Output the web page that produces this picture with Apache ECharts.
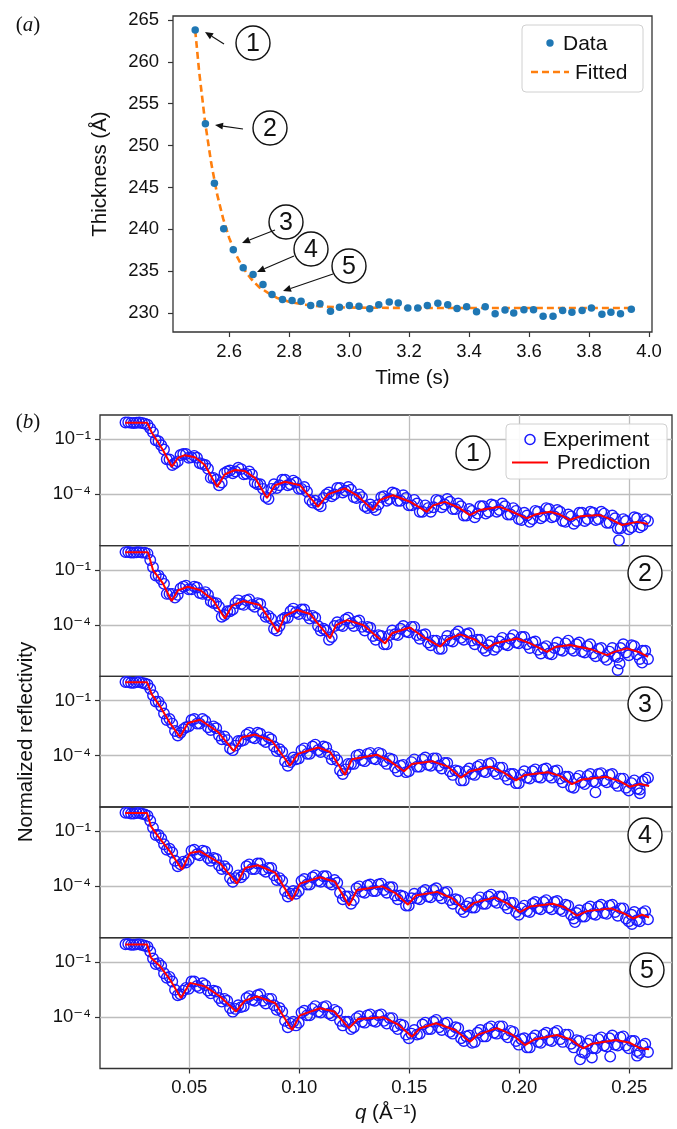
<!DOCTYPE html>
<html><head><meta charset="utf-8">
<script src="https://cdn.jsdelivr.net/npm/echarts@6/dist/echarts.min.js"></script>
<style>html,body{margin:0;padding:0;background:#fff}#c{width:677px;height:1129px}</style>
</head><body><div id="c"></div>
<script>
// ---------- Panel (a) data ----------
const timeS = [2.487,2.521,2.551,2.582,2.614,2.647,2.680,2.713,2.743,2.778,2.810,2.840,2.872,2.903,2.938,2.968,3.001,3.033,3.069,3.099,3.134,3.164,3.196,3.229,3.261,3.296,3.329,3.360,3.392,3.425,3.454,3.487,3.520,3.549,3.583,3.615,3.647,3.680,3.712,3.743,3.777,3.808,3.843,3.873,3.905,3.941];
const thickness = [263.8,252.6,245.5,240.05,237.56,235.4,234.6,233.4,232.2,231.6,231.5,231.4,230.9,231.1,230.2,230.7,230.9,230.8,230.5,231.0,231.3,231.2,230.6,230.6,230.9,231.15,231.0,230.55,230.75,230.15,230.75,229.9,230.35,230.0,230.4,230.4,229.6,229.6,230.3,230.1,230.3,230.6,229.85,230.1,229.9,230.45];
const fitTime = [2.487,2.50,2.52,2.54,2.56,2.58,2.60,2.62,2.64,2.66,2.68,2.70,2.73,2.76,2.80,2.85,2.90,2.95,3.0,3.2,3.4,3.6,3.8,3.94];
const fitThickness = [263.8,258.9,252.8,248.0,244.2,241.3,239.0,237.2,235.8,234.7,233.8,233.1,232.4,231.8,231.35,231.0,230.8,230.7,230.65,230.6,230.6,230.6,230.6,230.6];
const timeTicks = [2.6,2.8,3.0,3.2,3.4,3.6,3.8,4.0];
const thickTicks = [230,235,240,245,250,255,260,265];

// ---------- Panel (b) data (log10 of normalized reflectivity) ----------
const qGrid = [0.0210,0.0235,0.0260,0.0285,0.0310,0.0335,0.0360,0.0385,0.0410,0.0435,
0.0460,0.0485,0.0510,0.0535,0.0560,0.0585,0.0610,0.0635,0.0660,0.0685,
0.0710,0.0735,0.0760,0.0785,0.0810,0.0835,0.0860,0.0885,0.0910,0.0935,
0.0960,0.0985,0.1010,0.1035,0.1060,0.1085,0.1110,0.1135,0.1160,0.1185,
0.1210,0.1235,0.1260,0.1285,0.1310,0.1335,0.1360,0.1385,0.1410,0.1435,
0.1460,0.1485,0.1510,0.1535,0.1560,0.1585,0.1610,0.1635,0.1660,0.1685,
0.1710,0.1735,0.1760,0.1785,0.1810,0.1835,0.1860,0.1885,0.1910,0.1935,
0.1960,0.1985,0.2010,0.2035,0.2060,0.2085,0.2110,0.2135,0.2160,0.2185,
0.2210,0.2235,0.2260,0.2285,0.2310,0.2335,0.2360,0.2385,0.2410,0.2435,
0.2460,0.2485,0.2510,0.2535,0.2560,0.2585];
const qMid = [0.02225,0.02475,0.02725,0.02975,0.03225,0.03475,0.03725,0.03975,0.04225,0.04475,
0.04725,0.04975,0.05225,0.05475,0.05725,0.05975,0.06225,0.06475,0.06725,0.06975,
0.07225,0.07475,0.07725,0.07975,0.08225,0.08475,0.08725,0.08975,0.09225,0.09475,
0.09725,0.09975,0.10225,0.10475,0.10725,0.10975,0.11225,0.11475,0.11725,0.11975,
0.12225,0.12475,0.12725,0.12975,0.13225,0.13475,0.13725,0.13975,0.14225,0.14475,
0.14725,0.14975,0.15225,0.15475,0.15725,0.15975,0.16225,0.16475,0.16725,0.16975,
0.17225,0.17475,0.17725,0.17975,0.18225,0.18475,0.18725,0.18975,0.19225,0.19475,
0.19725,0.19975,0.20225,0.20475,0.20725,0.20975,0.21225,0.21475,0.21725,0.21975,
0.22225,0.22475,0.22725,0.22975,0.23225,0.23475,0.23725,0.23975,0.24225,0.24475,
0.24725,0.24975,0.25225,0.25475,0.25725];

const exp1Log = [-0.08,-0.10,-0.09,-0.11,-0.20,-0.62,-1.10,-1.55,-2.10,-2.30,
-1.85,-1.80,-1.98,-2.00,-2.35,-2.60,-3.10,-3.50,-2.85,-2.70,
-2.75,-2.62,-2.88,-2.92,-3.45,-3.70,-4.25,-3.45,-3.50,-3.20,
-3.45,-3.35,-3.70,-3.85,-4.45,-4.55,-4.20,-3.90,-4.00,-3.65,
-3.80,-3.75,-4.20,-4.15,-4.75,-4.70,-4.55,-4.10,-4.25,-3.95,
-4.35,-4.20,-4.60,-4.50,-4.95,-4.75,-4.70,-4.35,-4.55,-4.40,
-4.80,-4.65,-5.15,-4.90,-5.05,-4.65,-4.95,-4.60,-4.85,-4.65,
-5.10,-4.90,-5.40,-5.15,-5.35,-4.95,-5.20,-4.80,-5.20,-4.95,
-5.50,-5.20,-5.45,-5.00,-5.35,-5.00,-5.35,-5.05,-5.55,-5.30,
-5.85,-5.45,-5.80,-5.30,-5.70,-5.45];
const exp1MidLog = [-0.07,-0.11,-0.08,-0.14,-0.40,-1.05,-1.32,-2.08,-2.40,-2.20,
-1.80,-2.00,-1.90,-2.30,-2.40,-3.10,-3.20,-3.35,-2.75,-2.85,
-2.55,-2.90,-2.75,-3.35,-3.45,-4.15,-3.70,-3.65,-3.20,-3.50,
-3.25,-3.70,-3.60,-4.30,-4.35,-4.65,-4.00,-4.10,-3.65,-3.90,
-3.60,-4.15,-4.00,-4.65,-4.55,-4.85,-4.15,-4.35,-3.90,-4.35,
-4.05,-4.60,-4.30,-4.95,-4.60,-4.95,-4.30,-4.70,-4.25,-4.80,
-4.50,-5.15,-4.80,-5.25,-4.65,-5.05,-4.55,-4.95,-4.50,-5.10,
-4.75,-5.35,-5.00,-5.50,-4.90,-5.30,-4.75,-5.25,-4.85,-5.45,
-5.10,-5.60,-5.00,-5.45,-4.95,-5.40,-4.95,-5.55,-5.15,-5.85,
-5.35,-5.90,-5.25,-5.80,-5.35];
const exp2Log = [-0.02,-0.04,-0.03,-0.05,-0.10,-0.85,-1.30,-1.75,-2.30,-2.50,
-2.00,-1.85,-2.05,-1.95,-2.30,-2.35,-2.80,-3.00,-3.45,-3.25,
-2.80,-2.85,-2.65,-2.90,-2.80,-3.30,-3.50,-4.20,-4.05,-3.60,
-3.25,-3.30,-3.15,-3.45,-3.50,-4.05,-4.20,-4.80,-4.05,-4.00,
-3.70,-3.90,-3.80,-4.10,-4.10,-4.60,-4.55,-5.05,-4.55,-4.50,
-4.20,-4.35,-4.10,-4.55,-4.55,-4.95,-4.85,-5.30,-4.85,-4.85,
-4.50,-4.70,-4.50,-4.85,-4.80,-5.25,-5.10,-5.35,-4.90,-5.05,
-4.75,-4.95,-4.65,-5.05,-4.95,-5.35,-5.25,-5.55,-5.25,-5.35,
-5.00,-5.30,-5.05,-5.45,-5.15,-5.55,-5.30,-5.75,-5.45,-5.70,
-5.25,-5.50,-5.10,-5.60,-5.40,-5.85];
const exp2MidLog = [-0.01,-0.05,-0.02,-0.05,-0.45,-1.30,-1.50,-2.30,-2.30,-2.35,
-1.90,-2.05,-1.90,-2.25,-2.20,-2.70,-2.80,-3.55,-3.25,-3.15,
-2.65,-2.90,-2.60,-3.00,-2.85,-3.55,-3.65,-4.30,-3.70,-3.60,
-3.10,-3.40,-3.15,-3.65,-3.60,-4.30,-4.30,-4.65,-3.85,-4.05,
-3.60,-4.05,-3.75,-4.30,-4.15,-4.80,-4.60,-5.05,-4.30,-4.55,
-4.05,-4.40,-4.10,-4.75,-4.50,-5.10,-4.85,-5.30,-4.60,-4.90,
-4.35,-4.80,-4.45,-5.05,-4.80,-5.40,-4.90,-5.20,-4.70,-5.10,
-4.55,-5.00,-4.65,-5.25,-4.90,-5.55,-5.15,-5.60,-4.95,-5.40,
-4.85,-5.40,-4.95,-5.50,-5.05,-5.70,-5.25,-5.90,-5.25,-5.75,
-5.05,-5.65,-5.15,-5.85,-5.40];
const exp3Log = [0.02,-0.02,0.01,-0.03,-0.12,-0.70,-1.05,-1.70,-2.00,-2.65,
-2.75,-2.45,-2.05,-2.25,-2.00,-2.45,-2.40,-2.90,-2.95,-3.60,
-3.45,-3.20,-2.85,-3.00,-2.75,-3.15,-3.00,-3.50,-3.65,-4.30,
-4.35,-4.20,-3.70,-3.90,-3.50,-3.70,-3.50,-3.90,-4.05,-4.80,
-4.75,-4.45,-4.00,-4.25,-3.90,-4.15,-3.85,-4.30,-4.15,-4.65,
-4.55,-4.90,-4.35,-4.60,-4.20,-4.50,-4.15,-4.55,-4.40,-4.85,
-4.80,-5.35,-4.85,-5.00,-4.60,-4.85,-4.45,-4.85,-4.65,-5.10,
-5.00,-5.50,-5.05,-5.20,-4.85,-5.15,-4.75,-5.10,-4.85,-5.25,
-5.15,-5.70,-5.25,-5.45,-5.10,-5.40,-5.00,-5.35,-5.05,-5.50,
-5.25,-5.75,-5.50,-5.80,-5.40,-5.20];
const exp3MidLog = [0.01,-0.03,0.02,-0.06,-0.35,-1.05,-1.30,-2.05,-2.25,-2.90,
-2.55,-2.40,-2.00,-2.25,-2.10,-2.60,-2.50,-3.10,-3.15,-3.70,
-3.20,-3.15,-2.75,-3.05,-2.80,-3.25,-3.10,-3.75,-3.80,-4.55,
-4.10,-4.15,-3.60,-3.90,-3.40,-3.80,-3.55,-4.20,-4.25,-5.00,
-4.45,-4.45,-3.95,-4.30,-3.85,-4.20,-3.90,-4.45,-4.20,-4.85,
-4.50,-4.85,-4.20,-4.60,-4.10,-4.55,-4.15,-4.70,-4.40,-5.05,
-4.85,-5.35,-4.70,-5.05,-4.50,-4.90,-4.40,-5.00,-4.65,-5.30,
-5.00,-5.50,-4.85,-5.25,-4.75,-5.20,-4.70,-5.20,-4.80,-5.45,
-5.15,-5.75,-5.10,-5.55,-5.00,-5.45,-4.95,-5.45,-5.00,-5.65,
-5.25,-5.90,-5.35,-5.85,-5.30];
const exp4Log = [0.02,-0.03,0.00,-0.04,-0.15,-0.80,-1.20,-1.70,-1.95,-2.60,
-2.80,-2.70,-2.05,-2.25,-2.05,-2.45,-2.45,-2.85,-2.90,-3.55,
-3.55,-3.50,-2.90,-3.05,-2.75,-3.10,-3.00,-3.40,-3.55,-4.25,
-4.40,-4.40,-3.70,-3.90,-3.50,-3.70,-3.45,-3.80,-3.65,-4.35,
-4.55,-4.95,-4.10,-4.30,-3.95,-4.25,-3.90,-4.20,-4.05,-4.50,
-4.50,-5.05,-4.65,-4.65,-4.30,-4.55,-4.20,-4.50,-4.35,-4.75,
-4.70,-5.25,-5.10,-5.15,-4.75,-4.95,-4.55,-4.80,-4.55,-5.00,
-4.90,-5.40,-5.20,-5.35,-4.95,-5.20,-4.85,-5.15,-4.85,-5.25,
-5.00,-5.55,-5.45,-5.65,-5.20,-5.50,-5.10,-5.45,-5.05,-5.40,
-5.20,-5.75,-5.55,-5.85,-5.45,-5.80];
const exp4MidLog = [0.01,-0.03,0.01,-0.07,-0.42,-1.20,-1.38,-2.00,-2.15,-2.90,
-2.65,-2.55,-2.00,-2.30,-2.10,-2.60,-2.50,-3.05,-3.05,-3.75,
-3.40,-3.35,-2.80,-3.05,-2.75,-3.20,-3.00,-3.65,-3.70,-4.55,
-4.25,-4.25,-3.60,-3.90,-3.40,-3.75,-3.45,-3.90,-3.80,-4.70,
-4.55,-4.75,-4.00,-4.35,-3.90,-4.25,-3.85,-4.35,-4.05,-4.70,
-4.55,-5.05,-4.40,-4.70,-4.20,-4.60,-4.10,-4.65,-4.30,-4.95,
-4.75,-5.40,-4.90,-5.15,-4.60,-4.95,-4.45,-4.90,-4.55,-5.20,
-4.90,-5.55,-5.05,-5.40,-4.85,-5.25,-4.75,-5.25,-4.80,-5.35,
-5.05,-5.75,-5.30,-5.65,-5.10,-5.55,-5.00,-5.50,-5.00,-5.60,
-5.20,-5.90,-5.40,-5.90,-5.35];
const exp5Log = [-0.02,-0.05,-0.03,-0.06,-0.15,-0.80,-1.05,-1.60,-1.80,-2.50,
-2.75,-2.40,-2.05,-2.30,-2.15,-2.55,-2.55,-2.95,-3.00,-3.50,
-3.55,-3.45,-2.95,-3.05,-2.80,-3.10,-3.00,-3.35,-3.50,-4.20,
-4.35,-4.45,-3.75,-3.90,-3.55,-3.70,-3.45,-3.80,-3.60,-4.20,
-4.25,-4.65,-4.05,-4.25,-3.90,-4.20,-3.90,-4.20,-4.05,-4.50,
-4.40,-4.95,-4.90,-4.95,-4.40,-4.65,-4.25,-4.55,-4.35,-4.80,
-4.55,-5.15,-5.05,-5.40,-4.85,-5.05,-4.60,-4.85,-4.50,-4.95,
-4.75,-5.30,-5.20,-5.65,-5.15,-5.35,-4.95,-5.25,-4.85,-5.20,
-4.95,-5.45,-5.25,-5.90,-5.45,-5.70,-5.20,-5.55,-5.15,-5.50,
-5.10,-5.55,-5.30,-5.85,-5.55,-5.90];
const exp5MidLog = [-0.01,-0.05,-0.02,-0.10,-0.42,-1.10,-1.20,-1.85,-2.05,-2.80,
-2.55,-2.45,-2.05,-2.40,-2.25,-2.70,-2.60,-3.15,-3.10,-3.70,
-3.35,-3.40,-2.85,-3.10,-2.75,-3.25,-3.00,-3.60,-3.70,-4.55,
-4.25,-4.30,-3.65,-3.90,-3.40,-3.75,-3.40,-3.90,-3.70,-4.45,
-4.25,-4.55,-3.95,-4.30,-3.85,-4.25,-3.85,-4.35,-4.05,-4.65,
-4.45,-5.15,-4.70,-4.90,-4.30,-4.65,-4.15,-4.70,-4.30,-4.90,
-4.60,-5.30,-5.00,-5.35,-4.70,-5.05,-4.50,-4.90,-4.50,-5.10,
-4.80,-5.50,-5.15,-5.65,-5.00,-5.40,-4.85,-5.30,-4.75,-5.35,
-4.95,-5.65,-5.30,-5.95,-5.25,-5.70,-5.10,-5.60,-5.00,-5.55,
-5.05,-5.70,-5.30,-5.95,-5.45];

const extra1Q = [0.2453], extra1Log = [-6.50];
const extra2Q = [0.2447,0.2456,0.2558], extra2Log = [-6.45,-6.10,-6.05];
const extra3Q = [0.2346,0.2548], extra3Log = [-6.00,-6.05];
const extra4Q = [0.2253,0.2512], extra4Log = [-5.95,-6.05];
const extra5Q = [0.2276,0.2330,0.2413,0.2535], extra5Log = [-6.30,-6.20,-6.15,-6.10];

const pred1Q = [0.0208,0.0308,0.0330,0.0380,0.0421,0.0449,0.0480,0.0526,0.0571,0.0626,0.0662,0.0708,0.0753,0.0799,0.0853,0.0890,0.0935,0.1003,0.1085,0.1130,0.1208,0.1267,0.1335,0.1367,0.1426,0.1503,0.1580,0.1608,0.1662,0.1721,0.1776,0.1821,0.1912,0.1967,0.2035,0.2071,0.2139,0.2185,0.2230,0.2276,0.2367,0.2413,0.2467,0.2535,0.2585];
const pred1Log = [-0.09,-0.09,-0.64,-1.58,-2.49,-2.0,-1.86,-1.97,-2.40,-3.59,-2.9,-2.67,-2.73,-3.11,-4.20,-3.5,-3.31,-3.5,-4.68,-4.0,-3.67,-4.1,-4.86,-4.3,-4.05,-4.4,-4.95,-4.6,-4.41,-4.7,-5.13,-4.85,-4.68,-4.95,-5.31,-5.1,-4.95,-5.1,-5.4,-5.2,-5.13,-5.35,-5.67,-5.5,-5.62];
const pred2Q = [0.0208,0.0312,0.0335,0.0380,0.0420,0.0449,0.0494,0.0549,0.0608,0.0662,0.0694,0.0744,0.0821,0.0903,0.0935,0.0990,0.1049,0.1140,0.1167,0.1217,0.1290,0.1390,0.1421,0.1503,0.1562,0.1640,0.1671,0.1730,0.1799,0.1853,0.1890,0.1990,0.2049,0.2126,0.2162,0.2230,0.2321,0.2399,0.2435,0.2490,0.2549,0.2585];
const pred2Log = [-0.03,-0.03,-1.0,-1.73,-2.69,-2.1,-1.91,-2.09,-2.64,-3.64,-2.95,-2.69,-2.91,-4.37,-3.5,-3.18,-3.40,-4.73,-4.0,-3.73,-4.0,-5.0,-4.45,-4.13,-4.64,-5.18,-4.8,-4.51,-4.8,-5.27,-5.0,-4.73,-5.0,-5.46,-5.2,-5.09,-5.3,-5.64,-5.45,-5.27,-5.5,-5.73];
const pred3Q = [0.0208,0.0308,0.0330,0.0367,0.0412,0.0458,0.0494,0.0549,0.0630,0.0703,0.0740,0.0799,0.0876,0.0958,0.0994,0.1085,0.1140,0.1208,0.1239,0.1353,0.1412,0.1476,0.1512,0.1603,0.1676,0.1735,0.1776,0.1867,0.1926,0.1985,0.2026,0.2130,0.2185,0.2239,0.2285,0.2394,0.2458,0.2503,0.2549,0.2590];
const pred3Log = [0.0,0.0,-0.67,-1.31,-2.22,-2.98,-2.22,-2.04,-2.7,-3.75,-3.0,-2.85,-3.2,-4.55,-3.9,-3.55,-3.8,-5.05,-4.2,-3.95,-4.3,-4.85,-4.45,-4.3,-4.6,-5.2,-4.85,-4.6,-4.9,-5.35,-5.05,-4.9,-5.1,-5.55,-5.3,-5.15,-5.4,-5.7,-5.55,-5.65];
const pred4Q = [0.0208,0.0308,0.0326,0.0358,0.0412,0.0467,0.0503,0.0549,0.0640,0.0717,0.0753,0.0812,0.0890,0.0967,0.1003,0.1094,0.1162,0.1226,0.1262,0.1376,0.1435,0.1494,0.1530,0.1626,0.1694,0.1753,0.1794,0.1890,0.1949,0.2003,0.2049,0.2153,0.2208,0.2262,0.2308,0.2417,0.2471,0.2517,0.2558,0.2590];
const pred4Log = [0.0,0.0,-0.73,-1.27,-2.09,-3.09,-2.18,-2.09,-2.75,-3.85,-3.0,-2.85,-3.25,-4.75,-3.85,-3.5,-3.75,-5.05,-4.2,-4.0,-4.35,-5.0,-4.5,-4.3,-4.65,-5.3,-4.9,-4.6,-4.95,-5.4,-5.1,-4.95,-5.15,-5.6,-5.35,-5.2,-5.45,-5.75,-5.55,-5.7];
const pred5Q = [0.0208,0.0308,0.0326,0.0367,0.0412,0.0462,0.0503,0.0571,0.0640,0.0712,0.0753,0.0808,0.0890,0.0967,0.1003,0.1094,0.1158,0.1226,0.1267,0.1381,0.1449,0.1512,0.1549,0.1621,0.1708,0.1776,0.1812,0.1899,0.1967,0.2026,0.2071,0.2171,0.2230,0.2290,0.2330,0.2439,0.2503,0.2549,0.2590];
const pred5Log = [-0.03,-0.03,-0.76,-1.22,-1.95,-2.96,-2.13,-2.32,-2.87,-3.69,-3.1,-2.87,-3.23,-4.70,-3.9,-3.51,-3.69,-4.60,-4.1,-4.0,-4.4,-5.07,-4.6,-4.33,-4.7,-5.34,-4.95,-4.60,-4.95,-5.52,-5.2,-4.97,-5.2,-5.70,-5.45,-5.25,-5.4,-5.7,-5.75];

const qTicks = [0.05,0.10,0.15,0.20,0.25];
const reflTicks = [0.1, 0.0001];
const reflTickLabels = ['10\u207B\u00B9','10\u207B\u2074'];

// ---------- Chart ----------
const FONT = "'Liberation Sans', Arial, 'DejaVu Sans', sans-serif";
const TXT = '#111';
const chart = echarts.init(document.getElementById('c'), null, {renderer:'canvas'});
const toR = v => Math.pow(10, v);
const pairs = (xs, ys, f) => xs.map((x, i) => [x, f ? f(ys[i]) : ys[i]]);

const expSets = [
  [exp1Log, exp1MidLog, extra1Q, extra1Log], [exp2Log, exp2MidLog, extra2Q, extra2Log],
  [exp3Log, exp3MidLog, extra3Q, extra3Log], [exp4Log, exp4MidLog, extra4Q, extra4Log],
  [exp5Log, exp5MidLog, extra5Q, extra5Log]];
const predSets = [[pred1Q,pred1Log],[pred2Q,pred2Log],[pred3Q,pred3Log],[pred4Q,pred4Log],[pred5Q,pred5Log]];

const bTops = [415, 545.7, 676.3, 807, 937.8];
const bH = 130.7;

const grids = [{left:173, top:16, width:479, height:316, show:true, borderColor:'#333', borderWidth:1.3}];
bTops.forEach(t => grids.push({left:100, top:t, width:572, height:bH, show:true, borderColor:'#333', borderWidth:1.3}));

const xAxes = [{
  gridIndex:0, type:'value', min:2.413, max:4.01,
  axisLine:{show:false},
  axisTick:{show:true, length:5, customValues:timeTicks, lineStyle:{color:'#333', width:1.2}},
  axisLabel:{customValues:timeTicks, formatter:v=>Number(v).toFixed(1), fontSize:18.5, color:TXT, margin:10, fontFamily:FONT},
  splitLine:{show:false},
  name:'Time (s)', nameLocation:'middle', nameGap:36,
  nameTextStyle:{fontSize:20.5, color:TXT, fontFamily:FONT}
}];
const yAxes = [{
  gridIndex:0, type:'value', min:227.73, max:265.48,
  axisLine:{show:false},
  axisTick:{show:true, length:5, customValues:thickTicks, lineStyle:{color:'#333', width:1.2}},
  axisLabel:{customValues:thickTicks, formatter:v=>String(Math.round(v)), fontSize:18.5, color:TXT, margin:14, fontFamily:FONT},
  splitLine:{show:false},
  name:'Thickness (Å)', nameLocation:'middle', nameGap:62,
  nameTextStyle:{fontSize:20.5, color:TXT, fontFamily:FONT}
}];
for (let i = 0; i < 5; i++) {
  const last = i === 4;
  xAxes.push({
    gridIndex:i+1, type:'value', min:0.00941, max:0.2694,
    axisLine:{show:false},
    axisTick:{show:last, length:5, customValues:qTicks, lineStyle:{color:'#333', width:1.2}},
    axisLabel:{show:last, customValues:qTicks, formatter:v=>Number(v).toFixed(2), fontSize:18.5, color:TXT, margin:10, fontFamily:FONT},
    splitLine:{show:true, lineStyle:{color:'#bdbdbd', width:1.3}},
    name: last ? '{i|q} (Å\u207B\u00B9)' : '', nameLocation:'middle', nameGap:34,
    nameTextStyle:{fontSize:20.5, color:TXT, fontFamily:FONT, rich:{i:{fontStyle:'italic', fontSize:20.5, color:TXT, fontFamily:FONT}}}
  });
  yAxes.push({
    gridIndex:i+1, type:'log', logBase:10, min:Math.pow(10,-6.80), max:Math.pow(10,0.33),
    axisLine:{show:false},
    axisTick:{show:true, length:5, customValues:reflTicks, lineStyle:{color:'#333', width:1.2}},
    axisLabel:{customValues:reflTicks, formatter:v=>(Number(v) > 0.01 ? reflTickLabels[0] : reflTickLabels[1]), fontSize:18.5, color:TXT, margin:9, fontFamily:FONT},
    splitLine:{show:true, lineStyle:{color:'#bdbdbd', width:1.3}},
    minorTick:{show:false}, minorSplitLine:{show:false}
  });
}

const series = [
  {type:'line', xAxisIndex:0, yAxisIndex:0, data:pairs(fitTime, fitThickness), showSymbol:false,
   lineStyle:{color:'#ff7f0e', width:2.6, type:[7,4]}, z:2, silent:true},
  {type:'scatter', xAxisIndex:0, yAxisIndex:0, data:pairs(timeS, thickness), symbol:'circle', symbolSize:7.5,
   itemStyle:{color:'#1f77b4', opacity:1}, z:3}
];
for (let i = 0; i < 5; i++) {
  const [ev, mv, xq, xl] = expSets[i];
  const data = pairs(qGrid, ev, toR).concat(pairs(qMid, mv, toR), pairs(xq, xl, toR));
  series.push({type:'scatter', xAxisIndex:i+1, yAxisIndex:i+1, data, symbol:'circle', symbolSize:10.5,
    itemStyle:{color:'rgba(0,0,0,0)', borderColor:'#1a1aff', borderWidth:1.4, opacity:1}, z:3, clip:true});
  series.push({type:'line', xAxisIndex:i+1, yAxisIndex:i+1, data:pairs(predSets[i][0], predSets[i][1], toR),
    showSymbol:false, lineStyle:{color:'#ff0000', width:2}, z:4, clip:true, silent:true});
}

// ---------- Annotations ----------
function arrow(x1,y1,x2,y2){
  const a = Math.atan2(y2-y1, x2-x1), hl = 8, hw = 3.5;
  const bx = x2 - hl*Math.cos(a), by = y2 - hl*Math.sin(a);
  const px = -Math.sin(a)*hw, py = Math.cos(a)*hw;
  return [
    {type:'line', z:100, shape:{x1:x1, y1:y1, x2:bx, y2:by}, style:{stroke:'#111', lineWidth:1.1}},
    {type:'polygon', z:100, shape:{points:[[x2,y2],[bx+px,by+py],[bx-px,by-py]]}, style:{fill:'#111'}}
  ];
}
function circled(cx, cy, n){
  return [
    {type:'circle', z:100, shape:{cx:cx, cy:cy, r:17}, style:{fill:'#fff', stroke:'#111', lineWidth:1.4}},
    {type:'text', z:101, x:cx, y:cy+1, style:{text:String(n), font:'25px ' + FONT, fill:'#111', align:'center', verticalAlign:'middle'}}
  ];
}
const SERIF = '"Liberation Serif", "DejaVu Serif", serif';
const g = [];
g.push({type:'text', z:100, x:28, y:25, style:{text:'({i|a})', font:'21px ' + SERIF, fill:'#111', align:'center', verticalAlign:'middle',
  rich:{i:{fontStyle:'italic', font:'italic 21px ' + SERIF, fill:'#111'}}}});
g.push({type:'text', z:100, x:28, y:422, style:{text:'({i|b})', font:'21px ' + SERIF, fill:'#111', align:'center', verticalAlign:'middle',
  rich:{i:{fontStyle:'italic', font:'italic 21px ' + SERIF, fill:'#111'}}}});
g.push({type:'text', z:100, x:26, y:742, rotation:Math.PI/2, style:{text:'Normalized reflectivity', font:'20.5px ' + FONT, fill:'#111', align:'center', verticalAlign:'middle'}});
// legend a
g.push({type:'rect', z:99, shape:{x:522, y:25, width:121, height:67, r:4}, style:{fill:'rgba(255,255,255,0.9)', stroke:'#d0d0d0', lineWidth:1}});
g.push({type:'circle', z:100, shape:{cx:550, cy:43, r:3.7}, style:{fill:'#1f77b4'}});
g.push({type:'text', z:100, x:563, y:44, style:{text:'Data', font:'21px ' + FONT, fill:'#111', align:'left', verticalAlign:'middle'}});
g.push({type:'line', z:100, shape:{x1:531, y1:72, x2:569, y2:72}, style:{stroke:'#ff7f0e', lineWidth:2.6, lineDash:[7,4]}});
g.push({type:'text', z:100, x:575, y:73, style:{text:'Fitted', font:'21px ' + FONT, fill:'#111', align:'left', verticalAlign:'middle'}});
// legend b
g.push({type:'rect', z:99, shape:{x:506, y:424, width:161, height:55, r:4}, style:{fill:'rgba(255,255,255,0.9)', stroke:'#d0d0d0', lineWidth:1}});
g.push({type:'circle', z:100, shape:{cx:530, cy:439.5, r:5}, style:{fill:'rgba(0,0,0,0)', stroke:'#1a1aff', lineWidth:1.5}});
g.push({type:'text', z:100, x:543, y:440, style:{text:'Experiment', font:'21px ' + FONT, fill:'#111', align:'left', verticalAlign:'middle'}});
g.push({type:'line', z:100, shape:{x1:512, y1:462.5, x2:548, y2:462.5}, style:{stroke:'#ff0000', lineWidth:2}});
g.push({type:'text', z:100, x:557, y:463, style:{text:'Prediction', font:'21px ' + FONT, fill:'#111', align:'left', verticalAlign:'middle'}});
[[253,43,1],[270,128,2],[286,222,3],[311,249,4],[349,266,5]].forEach(c => g.push(...circled(c[0],c[1],c[2])));
g.push(...arrow(224,44,205,32));
g.push(...arrow(243,129,215,125));
g.push(...arrow(275,230,242,243));
g.push(...arrow(294,256,257,272));
g.push(...arrow(333,274,283,291));
[[473,453,1],[645,573,2],[645,704,3],[645,835,4],[647,970,5]].forEach(c => g.push(...circled(c[0],c[1],c[2])));

chart.setOption({
  animation:false,
  backgroundColor:'#fff',
  textStyle:{fontFamily:FONT},
  grid:grids, xAxis:xAxes, yAxis:yAxes, series:series,
  graphic:{elements:g}
});
</script></body></html>
